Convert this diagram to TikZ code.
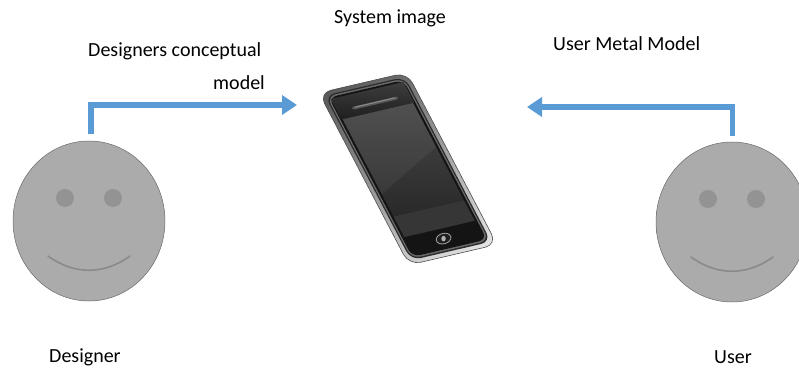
\documentclass[tikz,border=0pt]{standalone}
\usepackage{fontspec}
\setmainfont{Carlito}
\usetikzlibrary{arrows.meta,shapes.geometric,shadings}

\definecolor{flowblue}{HTML}{5B9BD5}
\definecolor{facegray}{HTML}{ABABAB}
\definecolor{facedark}{HTML}{6A6A6A}
\definecolor{eyegray}{HTML}{939393}
\definecolor{smilegray}{HTML}{8A8A8A}

% flat grey face with a darker bevelled rim
\pgfdeclareradialshading{facerim}{\pgfpoint{0bp}{0bp}}{%
  color(0bp)=(facegray); color(41bp)=(facegray);
  color(47bp)=(facedark!80!facegray); color(50bp)=(facedark!80!black);
  color(60bp)=(facedark!80!black)}

\tikzset{
  smiley/.pic={
    \node[face] (-body) at (0,0) {};
    \fill[eye] (-24,-23) circle (9pt);
    \fill[eye] (24,-23) circle (9pt);
    \draw[smile] (-41,35) .. controls (-15,54) and (15,54) .. (41,35);
  }
}

\begin{document}
\begin{tikzpicture}[x=1pt,y=-1pt,
  flow/.style={draw=flowblue, line width=5.5pt, line join=miter,
    -{Triangle[length=15pt,width=19pt]}},
  face/.style={ellipse, minimum width=152pt, minimum height=160pt,
    inner sep=0pt, shade, shading=facerim, draw=facedark, line width=0.5pt},
  eye/.style={fill=eyegray},
  smile/.style={draw=smilegray, line width=1.6pt, line cap=round},
  caption/.style={font=\fontsize{20}{24}\selectfont, inner sep=0pt, text=black}]

\useasboundingbox (0,0) rectangle (799,371);
\clip (0,0) rectangle (799,371);

% ---- the two people ----
\pic (designer) at (89,221) {smiley};
\pic (user) at (732,222) {smiley};

% ---- the phone (system image), drawn in its own slanted frame ----
\begin{scope}[shift={(319,93)}, x={(88pt,20.5pt)}, y={(90pt,-172pt)}]
  % chrome rim
  \shade[rounded corners=12pt,
    upper left=black!70, upper right=black!45,
    lower left=black!35, lower right=black!5]
    (0,0) -- (1,0) -- (1,1) -- (0,1) -- cycle;
  \draw[black!70, line width=0.6pt, rounded corners=12pt]
    (0,0) -- (1,0) -- (1,1) -- (0,1) -- cycle;
  % inner edge of the rim
  \fill[black!83, rounded corners=10pt]
    (0.045,0.02) -- (0.955,0.02) -- (0.955,0.978) -- (0.045,0.978) -- cycle;
  \fill[black!58, rounded corners=9pt]
    (0.06,0.027) -- (0.94,0.027) -- (0.94,0.97) -- (0.06,0.97) -- cycle;
  % black body
  \fill[black!92, rounded corners=8pt]
    (0.075,0.035) -- (0.925,0.035) -- (0.925,0.962) -- (0.075,0.962) -- cycle;
  % glossy top bezel
  \shade[top color=black!76, bottom color=black!88]
    (0.085,0.045) -- (0.915,0.045) -- (0.915,0.165) -- (0.085,0.165) -- cycle;
  % screen
  \shade[top color=black!72, bottom color=black!84]
    (0.1,0.165) -- (0.9,0.165) -- (0.9,0.73) -- (0.1,0.73) -- cycle;
  \fill[white, opacity=0.05]
    (0.1,0.165) -- (0.9,0.165) -- (0.9,0.42) -- (0.1,0.6) -- cycle;
  % reflection band under the screen
  \fill[black!79]
    (0.1,0.73) -- (0.9,0.73) -- (0.9,0.85) -- (0.1,0.85) -- cycle;
  % speaker slot
  \draw[black!66, line width=3pt, line cap=round] (0.27,0.12) -- (0.76,0.12);
  \draw[black!45, line width=1pt, line cap=round] (0.29,0.117) -- (0.74,0.117);
  % home button
  \fill[black!88] (0.49,0.905) ellipse [x radius=7.5pt, y radius=5.2pt, rotate=15];
  \draw[black!40, line width=0.9pt] (0.49,0.905) ellipse [x radius=7.5pt, y radius=5.2pt, rotate=15];
  \fill[black!30] (0.49,0.905) ellipse [x radius=2.2pt, y radius=2.8pt];
\end{scope}

% ---- connectors into the system image ----
\coordinate (phoneinL) at (297,105);
\coordinate (phoneinR) at (527,107);
\draw[flow] ([xshift=2pt,yshift=7pt]designer-body.north) |- (phoneinL);
\draw[flow] ([xshift=0.5pt,yshift=6pt]user-body.north) |- (phoneinR);

% ---- captions ----
\node[caption, anchor=base west] (sysimg) at (334,24) {System image};
\node[caption, anchor=base west] (dcm1) at (88,57) {Designers conceptual};
\node[caption, anchor=base east] (dcm2) at (265,90) {model};
\node[caption, anchor=base west] (umm) at (553,51) {User Metal Model};
\node[caption, anchor=base west] (dname) at (49,362) {Designer};
\node[caption, anchor=base west] (uname) at (714,363) {User};
\end{tikzpicture}
\end{document}
